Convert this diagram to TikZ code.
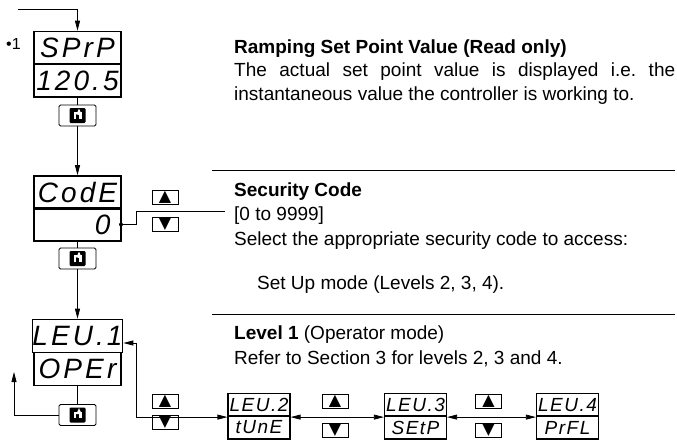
\documentclass[tikz,border=0pt]{standalone}
\usepackage{fontspec}
\setmainfont{Liberation Sans}
\newfontfamily\segfont[LetterSpace=11]{Liberation Sans}
\newfontfamily\smallsegfont[LetterSpace=8]{Liberation Sans}
\newfontfamily\symfont{DejaVu Sans}
\usetikzlibrary{arrows.meta}

\tikzset{
  disp/.style={draw, line width=1.6pt, minimum width=87pt, minimum height=33pt,
    inner sep=0pt, font=\segfont\itshape\fontsize{28}{28}\selectfont},
  smalldisp/.style={draw, line width=1.2pt, minimum width=62pt, minimum height=23pt,
    inner sep=0pt, font=\smallsegfont\itshape\fontsize{19}{19}\selectfont},
  scrollkey/.style={draw, rounded corners=1.5pt, line width=0.8pt,
    minimum width=37pt, minimum height=21pt, inner sep=0pt},
  updown/.style={draw, line width=0.8pt, minimum width=26pt, minimum height=14pt,
    inner sep=0pt, font=\symfont\fontsize{16}{16}\selectfont},
  conn/.style={line width=0.8pt},
  tip/.style={-{Triangle[length=10pt,width=5pt]}},
  twotip/.style={{Triangle[length=10pt,width=5pt]}-{Triangle[length=10pt,width=5pt]}},
  body/.style={anchor=base west, inner sep=0pt, align=left,
    font=\frenchspacing\fontsize{19}{24.5}\selectfont},
  keyicon/.pic={
    \fill[black, rounded corners=1.2pt] (-8,-7.5) rectangle (8,7.5);
    \fill[white] (-4,-3.5) rectangle (4,3);
    \fill[black] (-1.8,-1.2) rectangle (1.8,3);
    \fill[white] (0,-1) -- (2.8,-1) -- (2.8,-5.5) -- (0,-5.5) -- cycle;
    \fill[white] (-1.2,-1) -- (4.2,-1) -- (1.5,-6.8) -- cycle;
  }
}

\begin{document}
\begin{tikzpicture}[x=1pt, y=-1pt]
  \useasboundingbox (0,0) rectangle (677,439);

  % displays
  \node[disp] (sprp)  at (77.5,48)  {SPrP};
  \node[disp] (sprpv) at (77.5,80.5) {120.5};
  \node[disp] (code)  at (77.5,192.5) {CodE};
  \node[disp, align=right, text width=66pt] (codev) at (77.5,224.5) {0};
  \node[disp] (lev1)  at (77.5,336) {LEU.1};
  \node[disp] (oper)  at (77.5,369) {OPEr};

  \node[smalldisp] (lev2) at (259,405)   {LEU.2};
  \node[smalldisp] (tune) at (259,427.5) {tUnE};
  \node[smalldisp] (lev3) at (415.5,405)   {LEU.3};
  \node[smalldisp] (setp) at (415.5,427.5) {SEtP};
  \node[smalldisp] (lev4) at (567.5,405)   {LEU.4};
  \node[smalldisp] (prfl) at (567.5,427.5) {PrFL};

  % keys
  \node[scrollkey] (key1) at (77.5,115.5) {};
  \node[scrollkey] (key2) at (77.5,258.5) {};
  \node[scrollkey] (key3) at (77.5,415) {};
  \foreach \k in {key1,key2,key3}
    \pic at (\k.center) {keyicon};

  \node[updown] (up1)   at (165,197.5) {▲};
  \node[updown] (down1) at (165,224.5) {▼};
  \node[updown] (up2)   at (165,401.5) {▲};
  \node[updown] (down2) at (165,422.5) {▼};
  \node[updown] (up3)   at (335,401.5) {▲};
  \node[updown] (down3) at (335,430) {▼};
  \node[updown] (up4)   at (488.5,401.5) {▲};
  \node[updown] (down4) at (488.5,430) {▼};

  \node[anchor=base west, inner sep=0pt, font=\fontsize{16}{16}\selectfont]
    (step1) at (6,49) {•1};

  % connectors
  \coordinate (start) at (18,9);
  \draw[conn, tip] (start) -| (sprp.north);
  \draw[conn] (sprpv.south) -- (key1.north);
  \draw[conn, tip] (key1.south) -- (code.north);
  \draw[conn] (codev.south) -- (key2.north);
  \draw[conn, tip] (key2.south) -- (lev1.north);
  \draw[conn] (oper.south) -- (key3.north);
  \draw[conn, tip] (key3.west) -| (14,372);

  \fill (121,224.5) circle (2pt);
  \coordinate (codeend) at (225,211);
  \draw[conn] (121,224.5) -- (136,224.5) |- (codeend);

  \draw[conn, twotip] (lev1.east |- 0,343) -- (136,343) |- (lev2.south west);
  \draw[conn, twotip] (lev2.south east) -- (lev3.south west);
  \draw[conn, twotip] (lev3.south east) -- (lev4.south west);

  % separators
  \draw[conn] (212,170) -- (675,170);
  \draw[conn] (212,314) -- (675,314);

  % descriptions
  \node[body] (ramp) at (234,100) {\textbf{Ramping Set Point Value (Read only)}\\[-1pt]
    \makebox[441pt][s]{The actual set point value is displayed i.e. the}\\[-1pt]
    instantaneous value the controller is working to.};
  \node[body] (sec) at (234,289) {\textbf{Security Code}\\
    {[}0 to 9999{]}\\
    Select the appropriate security code to access:\\[19.5pt]
    \hspace{23pt}Set Up mode (Levels 2, 3, 4).};
  \node[body] (lvl) at (234,364) {\textbf{Level 1} (Operator mode)\\
    Refer to Section 3 for levels 2, 3 and 4.};
\end{tikzpicture}
\end{document}
